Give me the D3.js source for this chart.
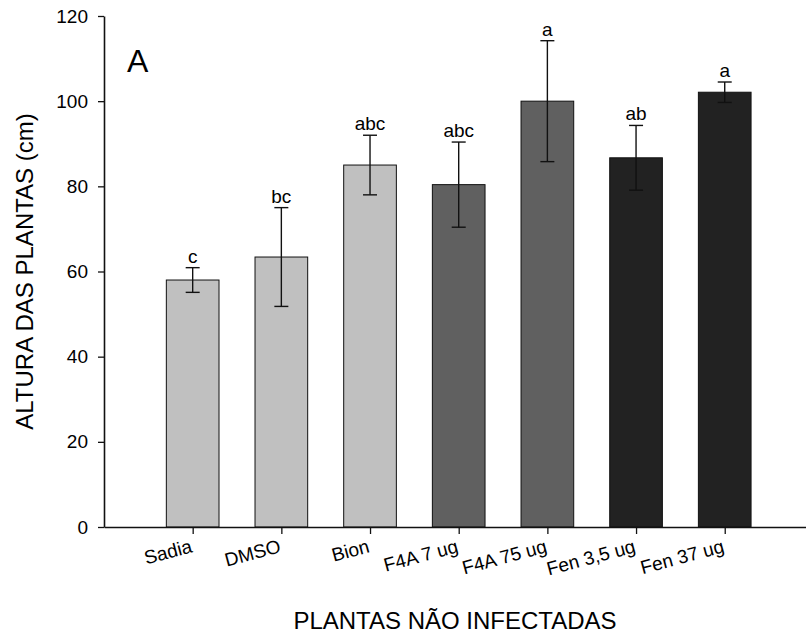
<!DOCTYPE html>
<html>
<head>
<meta charset="utf-8">
<script src="https://cdn.jsdelivr.net/npm/d3@7"></script>
<style>
    body { margin: 0; background: #fff; }
    svg text { font-family: "Liberation Sans", Arial, sans-serif; fill: #000; }
</style>
</head>
<body>
<svg id="chart" width="806" height="638"></svg>
<script>
// Treatments (x categories)
const categories = ['Sadia', 'DMSO', 'Bion', 'F4A 7 ug', 'F4A 75 ug', 'Fen 3,5 ug', 'Fen 37 ug'];
// Mean plant height (cm)
const means = [58.0, 63.4, 85.0, 80.4, 100.0, 86.7, 102.1];
// Error (half-length of the bar)
const errors = [2.9, 11.6, 7.0, 10.0, 14.2, 7.6, 2.4];
// Significance letters
const letters = ['c', 'bc', 'abc', 'abc', 'a', 'ab', 'a'];
// Fill group of each bar
const groups = ['light', 'light', 'light', 'mid', 'mid', 'dark', 'dark'];
const yTicks = [0, 20, 40, 60, 80, 100, 120];

const fills = { light: '#c0c0c0', mid: '#606060', dark: '#222222' };

const svg = d3.select('#chart');
const plotLeft = 104, plotRight = 813.4, plotTop = 16, plotBottom = 527;

const x = d3.scalePoint()
    .domain(categories)
    .range([plotLeft, plotRight])
    .padding(1);

const y = d3.scaleLinear()
    .domain([0, 120])
    .range([plotBottom, plotTop]);

const barW = x.step() * 0.594;

const data = categories.map((c, i) => ({
    cat: c, mean: means[i], err: errors[i], letter: letters[i], group: groups[i]
}));

// bars
svg.append('g')
    .selectAll('rect')
    .data(data)
    .join('rect')
    .attr('x', d => x(d.cat) - barW / 2)
    .attr('y', d => y(d.mean))
    .attr('width', barW)
    .attr('height', d => y(0) - y(d.mean))
    .attr('fill', d => fills[d.group])
    .attr('stroke', '#111')
    .attr('stroke-width', 1);

// error bars
const eb = svg.append('g')
    .attr('stroke', '#111')
    .attr('stroke-width', 1.4);

eb.selectAll('line.v')
    .data(data)
    .join('line')
    .attr('class', 'v')
    .attr('x1', d => x(d.cat))
    .attr('x2', d => x(d.cat))
    .attr('y1', d => y(d.mean + d.err))
    .attr('y2', d => y(d.mean - d.err));

['capTop', 'capBot'].forEach(k => {
    eb.selectAll('line.' + k)
        .data(data)
        .join('line')
        .attr('class', k)
        .attr('x1', d => x(d.cat) - 7)
        .attr('x2', d => x(d.cat) + 7)
        .attr('y1', d => y(k === 'capTop' ? d.mean + d.err : d.mean - d.err))
        .attr('y2', d => y(k === 'capTop' ? d.mean + d.err : d.mean - d.err));
});

// letters
svg.append('g')
    .selectAll('text')
    .data(data)
    .join('text')
    .attr('x', d => x(d.cat))
    .attr('y', d => y(d.mean + d.err) - 5)
    .attr('text-anchor', 'middle')
    .style('font-size', '19px')
    .text(d => d.letter);

// y axis
const yAxis = svg.append('g')
    .attr('transform', `translate(${plotLeft},0)`)
    .call(d3.axisLeft(y).tickValues(yTicks).tickSize(6).tickSizeOuter(0).tickPadding(10));

// x axis
const xAxis = svg.append('g')
    .attr('transform', `translate(0,${plotBottom})`)
    .call(d3.axisBottom(x).tickSize(7).tickSizeOuter(0));

xAxis.selectAll('.tick text')
    .attr('y', 0)
    .attr('dy', 0)
    .attr('text-anchor', 'end')
    .attr('transform', 'translate(0,25) rotate(-15)');

[yAxis, xAxis].forEach(a => {
    a.selectAll('path.domain').attr('stroke', '#111').attr('stroke-width', 1.6);
    a.selectAll('.tick line').attr('stroke', '#111').attr('stroke-width', 1.3);
    a.selectAll('.tick text')
        .style('font-size', '19px')
        .style('font-family', '"Liberation Sans", Arial, sans-serif')
        .attr('fill', '#000');
});

// axis titles
svg.append('text')
    .attr('transform', `translate(33,${(plotTop + plotBottom) / 2}) rotate(-90)`)
    .attr('text-anchor', 'middle')
    .style('font-size', '24px')
    .text('ALTURA DAS PLANTAS (cm)');

svg.append('text')
    .attr('x', (plotLeft + 806) / 2)
    .attr('y', 629)
    .attr('text-anchor', 'middle')
    .style('font-size', '24px')
    .text('PLANTAS NÃO INFECTADAS');

// panel letter
svg.append('text')
    .attr('x', 127)
    .attr('y', 72)
    .style('font-size', '32px')
    .text('A');
</script>
</body>
</html>
